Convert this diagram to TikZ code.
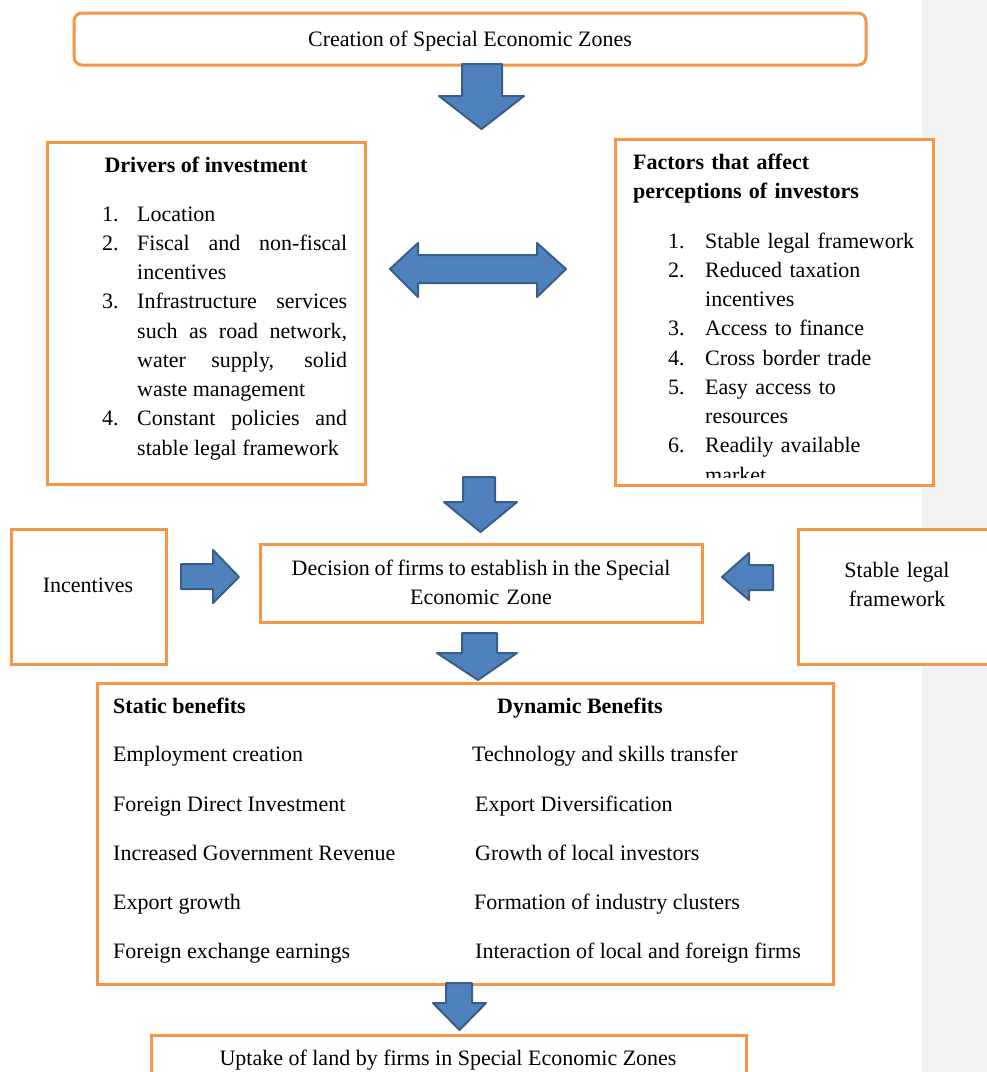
\documentclass[tikz,border=0pt]{standalone}
\usepackage{fontspec}
\setmainfont{Liberation Serif}
\definecolor{boxorange}{HTML}{F79646}
\definecolor{arrowfill}{HTML}{4F81BD}
\definecolor{arrowline}{HTML}{385D8A}
\definecolor{sidegrey}{HTML}{F2F2F2}
\newcommand{\listentry}[3]{\noindent\hangindent=#1\hangafter=1\makebox[#1][l]{#2}#3\par}
\begin{document}
\begin{tikzpicture}[x=1pt,y=-1pt,
  obox/.style={draw=boxorange, line width=3pt, fill=white},
  barrow/.style={draw=arrowline, line width=2pt, fill=arrowfill, line join=round},
  txt/.style={inner sep=0pt, font=\fontsize{22}{29.25}\selectfont},
  ]
\useasboundingbox (0,0) rectangle (987,1072);
\clip (0,0) rectangle (987,1072);
\fill[sidegrey] (922,0) rectangle (987,1072);

% boxes
\draw[obox, rounded corners=8pt] (74,13) rectangle (866,65);
\draw[obox] (47,142) rectangle (365,484);
\draw[obox] (615,139) rectangle (933,485);
\draw[obox] (11,529) rectangle (166,664);
\draw[obox] (260,544) rectangle (702,622);
\draw[obox] (798,529) rectangle (1000,664);
\draw[obox] (97,683) rectangle (833,984);
\draw[obox] (151,1035) rectangle (746,1090);

% block arrows
\filldraw[barrow] (462,64) -- (502,64) -- (502,96) -- (524,96) -- (481.5,129) -- (439,96) -- (462,96) -- cycle;
\filldraw[barrow] (390,269) -- (418,243) -- (418,255) -- (537,255) -- (537,243) -- (566,269) -- (537,297) -- (537,283) -- (418,283) -- (418,297) -- cycle;
\filldraw[barrow] (463,477) -- (495,477) -- (495,502) -- (517,502) -- (480.5,532) -- (444,502) -- (463,502) -- cycle;
\filldraw[barrow] (181,564) -- (213,564) -- (213,550) -- (239,577) -- (213,603) -- (213,589) -- (181,589) -- cycle;
\filldraw[barrow] (773,565) -- (749,565) -- (749,553) -- (722,577) -- (749,600) -- (749,590) -- (773,590) -- cycle;
\filldraw[barrow] (462,633) -- (497,633) -- (497,653) -- (517,653) -- (478,680) -- (437,653) -- (462,653) -- cycle;
\filldraw[barrow] (446,983) -- (472,983) -- (472,1003) -- (486,1003) -- (459.5,1030) -- (433,1003) -- (446,1003) -- cycle;

% texts
\node[txt, anchor=base] (creation) at (470,46) {Creation of Special Economic Zones};

\node[txt, anchor=base] (drvtitle) at (206,172) {\bfseries Drivers of investment};
\node[txt, anchor=base west, text width=245pt, align=justify] (drvlist) at (102,221) {\parskip=0pt\tolerance=10000\hbadness=10000
\listentry{35pt}{1.}{Location}
\listentry{35pt}{2.}{Fiscal and non-fiscal\linebreak incentives}
\listentry{35pt}{3.}{Infrastructure services\linebreak such as road network,\linebreak water supply, solid\linebreak waste management}
\listentry{35pt}{4.}{Constant policies and\linebreak stable legal framework}};

\node[txt, anchor=base west, text width=290pt, align=left] (factitle) at (633,169) {\bfseries Factors that affect\\perceptions of investors};
\begin{scope}
\clip (615,139) rectangle (933,477);
\node[txt, anchor=base west, text width=262pt, align=left] (faclist) at (668,248) {\parskip=0pt\tolerance=10000\hbadness=10000
\listentry{37pt}{1.}{Stable legal framework}
\listentry{37pt}{2.}{Reduced taxation\newline incentives}
\listentry{37pt}{3.}{Access to finance}
\listentry{37pt}{4.}{Cross border trade}
\listentry{37pt}{5.}{Easy access to\newline resources}
\listentry{37pt}{6.}{Readily available\newline market}};
\end{scope}

\node[txt, anchor=base] (incent) at (88,592) {Incentives};
\node[txt, anchor=base, text width=440pt, align=center] (decision) at (481,575) {\spaceskip=4pt plus 1pt minus 1pt Decision of firms to establish in the Special\\Economic Zone};
\node[txt, anchor=base, text width=160pt, align=center] (stable) at (897,577) {Stable legal\\framework};

\node[txt, anchor=base west] (stath) at (113,713) {\bfseries Static benefits};
\node[txt, anchor=base west] (dynh) at (497,713) {\bfseries Dynamic Benefits};
\node[txt, anchor=base west] (s1) at (113,761) {Employment creation};
\node[txt, anchor=base west] (s2) at (113,811) {Foreign Direct Investment};
\node[txt, anchor=base west] (s3) at (113,860) {Increased Government Revenue};
\node[txt, anchor=base west] (s4) at (113,909) {Export growth};
\node[txt, anchor=base west] (s5) at (113,958) {Foreign exchange earnings};
\node[txt, anchor=base west] (d1) at (472,761) {Technology and skills transfer};
\node[txt, anchor=base west] (d2) at (475,811) {Export Diversification};
\node[txt, anchor=base west] (d3) at (475,860) {Growth of local investors};
\node[txt, anchor=base west] (d4) at (474,909) {Formation of industry clusters};
\node[txt, anchor=base west] (d5) at (475,958) {Interaction of local and foreign firms};

\node[txt, anchor=base] (uptake) at (448,1065) {Uptake of land by firms in Special Economic Zones};
\end{tikzpicture}
\end{document}
